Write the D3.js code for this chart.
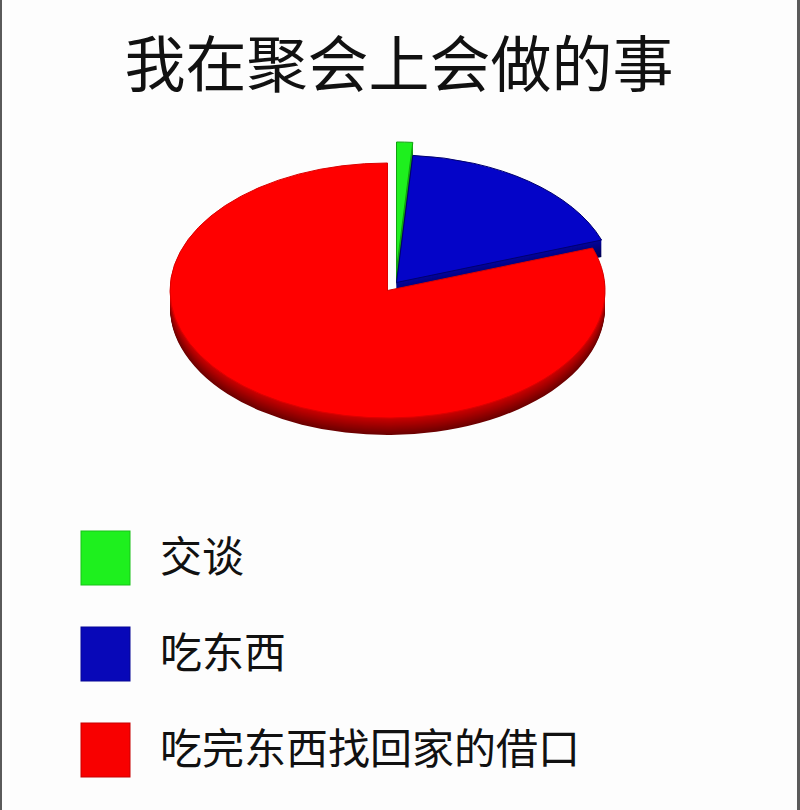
<!DOCTYPE html>
<html>
<head>
<meta charset="utf-8">
<script src="https://cdn.jsdelivr.net/npm/d3@7"></script>
<style>
  body { margin: 0; background: #fdfdfd; }
  svg { display: block; }
  text { font-family: "Noto Sans CJK SC", "Noto Sans", sans-serif; fill: #111; }
</style>
</head>
<body>
<svg width="800" height="810"></svg>
<script>
// data
var title = "我在聚会上会做的事";
var labels = ["交谈", "吃东西", "吃完东西找回家的借口"];
var values = [1.2, 18.4, 80.4];

// styles
var topColors = ["#1ef01e", "#0404c8", "#ff0000"];
var rimColors = ["#10a010", "#00006e", "#dc0000"];
var wallTop = ["#14b414", "#04049a", "#c80000"];
var wallBottom = ["#086008", "#010150", "#6c0000"];
var legendColors = ["#1ef01e", "#0808b8", "#f80000"];
var shiftX = [9, 9, 0];
var shiftY = [-21, -8, 0];

var W = 800, H = 810;
var cx = 387.5, cy = 290.5, rx = 217.5, ry = 127.5, depth = 17;

var svg = d3.select("svg");

svg.append("rect").attr("width", W).attr("height", H).attr("fill", "#fdfdfd");

// side borders
svg.append("rect").attr("x", 0).attr("y", 0).attr("width", 2).attr("height", H).attr("fill", "#5a5a5a");
svg.append("rect").attr("x", 797).attr("y", 0).attr("width", 3).attr("height", H).attr("fill", "#5a5a5a");

svg.append("text")
  .attr("x", 399)
  .attr("y", 87)
  .attr("text-anchor", "middle")
  .style("font-size", "61px")
  .text(title);

var pie = d3.pie().sort(null).value(function(d) { return d; });
var arc = d3.arc().innerRadius(0).outerRadius(1);
var slices = pie(values);

var pieG = svg.append("g");

slices.forEach(function(s, i) {
  var g = pieG.append("g");
  var wallColor = d3.scaleLinear().domain([depth, 1]).range([wallBottom[i], wallTop[i]]);
  // stacked layers make the 3d side
  g.selectAll("path.wall")
    .data(d3.range(depth, 0, -1))
    .enter()
    .append("path")
    .attr("class", "wall")
    .attr("d", arc(s))
    .attr("fill", function(k) { return wallColor(k); })
    .attr("transform", function(k) {
      return "translate(" + [cx + shiftX[i], cy + shiftY[i] + k] + ") scale(" + [rx, ry] + ")";
    });
  g.append("path")
    .attr("d", arc(s))
    .attr("fill", topColors[i])
    .attr("stroke", rimColors[i])
    .attr("stroke-width", 1)
    .attr("vector-effect", "non-scaling-stroke")
    .attr("transform", "translate(" + [cx + shiftX[i], cy + shiftY[i]] + ") scale(" + [rx, ry] + ")");
});

// legend
var ly = d3.scalePoint().domain(labels).range([531, 723]);

var items = svg.selectAll("g.legend")
  .data(labels)
  .enter()
  .append("g")
  .attr("class", "legend")
  .attr("transform", function(d) { return "translate(81," + ly(d) + ")"; });

items.append("rect")
  .attr("width", 49)
  .attr("height", 54)
  .attr("fill", function(d, i) { return legendColors[i]; })
  .attr("stroke", function(d, i) { return d3.color(legendColors[i]).darker(0.6); })
  .attr("stroke-width", 1);

items.append("text")
  .attr("x", 79)
  .attr("y", 41)
  .style("font-size", "42px")
  .text(function(d) { return d; });
</script>
</body>
</html>
